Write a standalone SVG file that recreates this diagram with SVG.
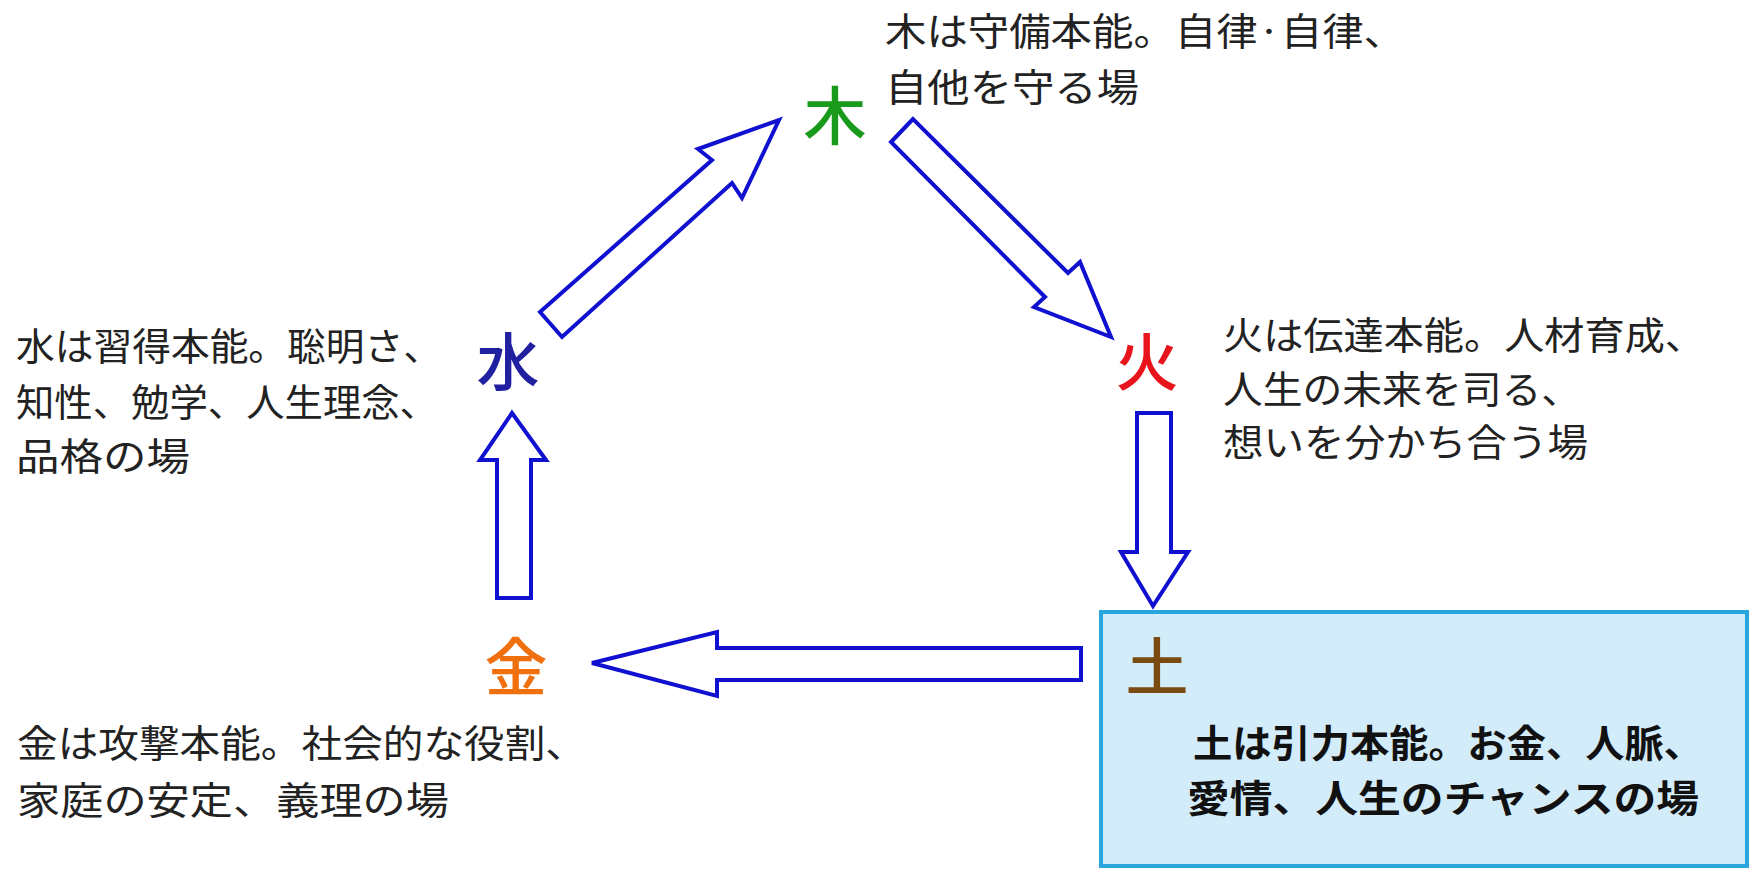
<svg xmlns="http://www.w3.org/2000/svg" width="1751" height="870" viewBox="0 0 1751 870">
<style>
.arrow{fill:#ffffff;stroke:#1010d0;stroke-width:4;stroke-linejoin:miter}
.desc{font-family:"Noto Sans CJK JP","Noto Sans CJK SC",sans-serif;font-size:38px;fill:#222222}
.bold{font-weight:bold;fill:#111111}
.el{font-family:"Noto Sans CJK JP","Noto Sans CJK SC",sans-serif;font-size:63px;font-weight:500;text-anchor:middle}
</style>
<rect width="1751" height="870" fill="#ffffff"/>
<g id="node-earth-box">
<rect x="1101" y="612" width="646" height="254" fill="#d3ecf9" stroke="#29a6de" stroke-width="4"/>
</g>
<g id="connectors">
<polygon class="arrow" points="540,312 712,160 698,149 779,120 742,198 732,183 562,337"/>
<polygon class="arrow" points="913,119 891,142 1045,297 1034,307 1111,337 1080,262 1068,273"/>
<polygon class="arrow" points="1137,413 1171,413 1171,552 1188,552 1153,606 1121,552 1137,552"/>
<polygon class="arrow" points="1081,648 1081,680 717,680 717,696 592,663 717,632 717,648"/>
<polygon class="arrow" points="497,598 531,598 531,460 546,460 512,413 480,460 497,460"/>
</g>
<g id="node-wood">
<text class="el" x="835" y="139" fill="#1a9a1a">木</text>
<text class="desc" x="885" y="45" textLength="520" lengthAdjust="spacingAndGlyphs">木は守備本能。自律·自律、</text>
<text class="desc" x="885" y="101" textLength="254" lengthAdjust="spacingAndGlyphs">自他を守る場</text>
</g>
<g id="node-fire">
<text class="el" x="1147" y="385" fill="#e8141c">火</text>
<text class="desc" x="1223" y="349" textLength="482" lengthAdjust="spacingAndGlyphs">火は伝達本能。人材育成、</text>
<text class="desc" x="1223" y="403" textLength="358" lengthAdjust="spacingAndGlyphs">人生の未来を司る、</text>
<text class="desc" x="1223" y="456" textLength="365" lengthAdjust="spacingAndGlyphs">想いを分かち合う場</text>
</g>
<g id="node-earth">
<text class="el" x="1157" y="690" fill="#7a4a10">土</text>
<text class="desc bold" x="1193" y="757" textLength="510" lengthAdjust="spacingAndGlyphs">土は引力本能。お金、人脈、</text>
<text class="desc bold" x="1187" y="812" textLength="512" lengthAdjust="spacingAndGlyphs">愛情、人生のチャンスの場</text>
</g>
<g id="node-metal">
<text class="el" x="516" y="690" fill="#f07010">金</text>
<text class="desc" x="17" y="757" textLength="569" lengthAdjust="spacingAndGlyphs">金は攻撃本能。社会的な役割、</text>
<text class="desc" x="17" y="814" textLength="432" lengthAdjust="spacingAndGlyphs">家庭の安定、義理の場</text>
</g>
<g id="node-water">
<text class="el" x="508" y="385" fill="#2020a0">水</text>
<text class="desc" x="16" y="360" textLength="426" lengthAdjust="spacingAndGlyphs">水は習得本能。聡明さ、</text>
<text class="desc" x="16" y="416" textLength="422" lengthAdjust="spacingAndGlyphs">知性、勉学、人生理念、</text>
<text class="desc" x="16" y="470" textLength="174" lengthAdjust="spacingAndGlyphs">品格の場</text>
</g>
</svg>
